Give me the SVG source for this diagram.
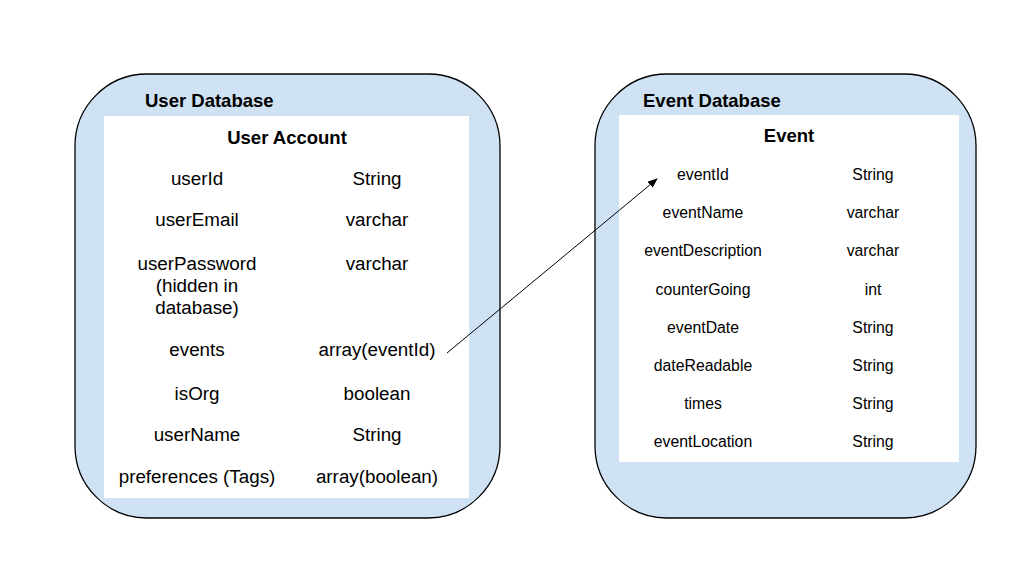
<svg xmlns="http://www.w3.org/2000/svg" width="1032" height="579" viewBox="0 0 1032 579">
<style>
.db{fill:#cfe2f3;stroke:#000;stroke-width:1.3}
.inner{fill:#fff}
text{font-family:"Liberation Sans",Arial,sans-serif;fill:#000}
.h{font-weight:bold;font-size:18.5px}
.l{font-size:18.8px;text-anchor:middle}
.s{font-size:15.8px;text-anchor:middle}
.c{stroke:#000;stroke-width:1;fill:none}
</style>
<defs>
<marker id="ah" markerWidth="10" markerHeight="8" refX="9" refY="4" orient="auto" markerUnits="userSpaceOnUse">
<path d="M0,0 L10,4 L0,8 Z" fill="#000"/>
</marker>
</defs>
<rect width="1032" height="579" fill="#fff"/>
<g id="user-database">
<rect class="db" x="75" y="74" width="425" height="444" rx="72" ry="72"/>
<text class="h" x="145" y="107">User Database</text>
<rect class="inner" x="104" y="116" width="365" height="382"/>
<text class="h" x="287" y="144" text-anchor="middle">User Account</text>
<text class="l" x="197" y="185">userId</text>
<text class="l" x="377" y="185">String</text>
<text class="l" x="197" y="226">userEmail</text>
<text class="l" x="377" y="226">varchar</text>
<text class="l" x="197" y="270">userPassword</text>
<text class="l" x="197" y="292">(hidden in</text>
<text class="l" x="197" y="314">database)</text>
<text class="l" x="377" y="270">varchar</text>
<text class="l" x="197" y="356">events</text>
<text class="l" x="377" y="356">array(eventId)</text>
<text class="l" x="197" y="400">isOrg</text>
<text class="l" x="377" y="400">boolean</text>
<text class="l" x="197" y="441">userName</text>
<text class="l" x="377" y="441">String</text>
<text class="l" x="197" y="483">preferences (Tags)</text>
<text class="l" x="377" y="483">array(boolean)</text>
</g>
<g id="event-database">
<rect class="db" x="595" y="74" width="381" height="444" rx="72" ry="72"/>
<text class="h" x="643" y="107">Event Database</text>
<rect class="inner" x="619" y="115" width="340" height="347"/>
<text class="h" x="789" y="142" text-anchor="middle">Event</text>
<text class="s" x="703" y="180">eventId</text>
<text class="s" x="873" y="180">String</text>
<text class="s" x="703" y="218">eventName</text>
<text class="s" x="873" y="218">varchar</text>
<text class="s" x="703" y="256">eventDescription</text>
<text class="s" x="873" y="256">varchar</text>
<text class="s" x="703" y="295">counterGoing</text>
<text class="s" x="873" y="295">int</text>
<text class="s" x="703" y="333">eventDate</text>
<text class="s" x="873" y="333">String</text>
<text class="s" x="703" y="371">dateReadable</text>
<text class="s" x="873" y="371">String</text>
<text class="s" x="703" y="409">times</text>
<text class="s" x="873" y="409">String</text>
<text class="s" x="703" y="447">eventLocation</text>
<text class="s" x="873" y="447">String</text>
</g>
<g id="connectors">
<line class="c" x1="447" y1="353" x2="657" y2="179" marker-end="url(#ah)"/>
</g>
</svg>
